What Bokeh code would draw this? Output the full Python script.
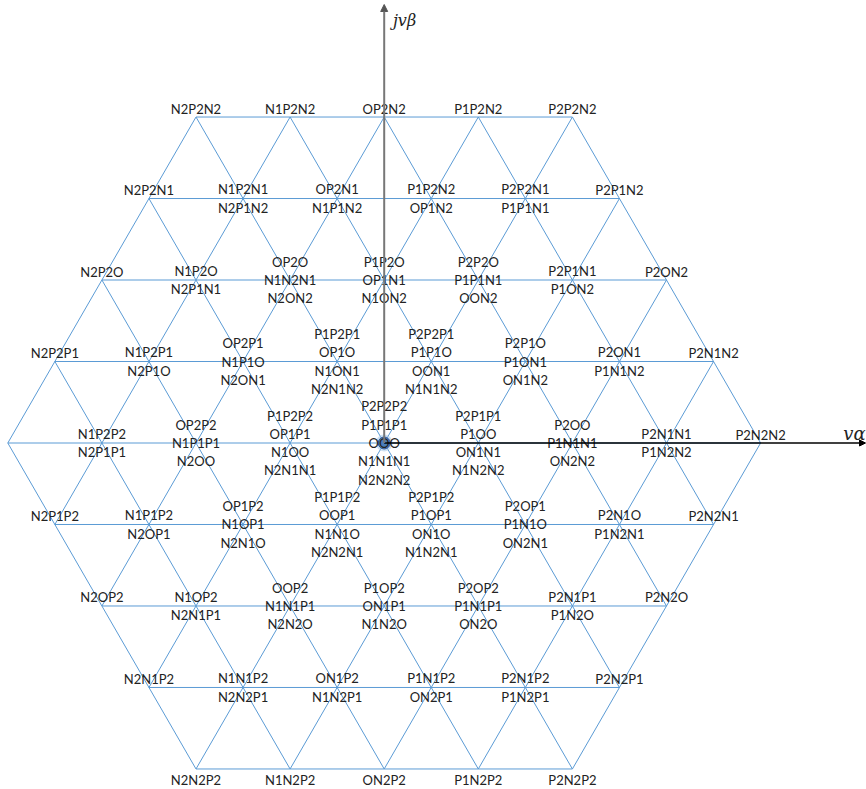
import math
from bokeh.plotting import figure
from bokeh.models import Range1d, ColumnDataSource, Arrow, NormalHead
from bokeh.core.properties import value
from bokeh.embed import file_html
from bokeh.resources import INLINE

# ---- data: switching states shown at each vertex, row by row
# (rows top to bottom, vertices left to right; [] = vertex without a label)
n_steps = 4  # five-level converter -> 4 steps from centre to hexagon edge

row_p4 = [["N2P2N2"], ["N1P2N2"], ["OP2N2"], ["P1P2N2"], ["P2P2N2"]]
row_p3 = [["N2P2N1"], ["N1P2N1", "N2P1N2"], ["OP2N1", "N1P1N2"], ["P1P2N2", "OP1N2"],
          ["P2P2N1", "P1P1N1"], ["P2P1N2"]]
row_p2 = [["N2P2O"], ["N1P2O", "N2P1N1"], ["OP2O", "N1N2N1", "N2ON2"],
          ["P1P2O", "OP1N1", "N1ON2"], ["P2P2O", "P1P1N1", "OON2"],
          ["P2P1N1", "P1ON2"], ["P2ON2"]]
row_p1 = [["N2P2P1"], ["N1P2P1", "N2P1O"], ["OP2P1", "N1P1O", "N2ON1"],
          ["P1P2P1", "OP1O", "N1ON1", "N2N1N2"], ["P2P2P1", "P1P1O", "OON1", "N1N1N2"],
          ["P2P1O", "P1ON1", "ON1N2"], ["P2ON1", "P1N1N2"], ["P2N1N2"]]
row_0 = [[], ["N1P2P2", "N2P1P1"], ["OP2P2", "N1P1P1", "N2OO"],
         ["P1P2P2", "OP1P1", "N1OO", "N2N1N1"],
         ["P2P2P2", "P1P1P1", "OOO", "N1N1N1", "N2N2N2"],
         ["P2P1P1", "P1OO", "ON1N1", "N1N2N2"], ["P2OO", "P1N1N1", "ON2N2"],
         ["P2N1N1", "P1N2N2"], ["P2N2N2"]]
row_m1 = [["N2P1P2"], ["N1P1P2", "N2OP1"], ["OP1P2", "N1OP1", "N2N1O"],
          ["P1P1P2", "OOP1", "N1N1O", "N2N2N1"], ["P2P1P2", "P1OP1", "ON1O", "N1N2N1"],
          ["P2OP1", "P1N1O", "ON2N1"], ["P2N1O", "P1N2N1"], ["P2N2N1"]]
row_m2 = [["N2OP2"], ["N1OP2", "N2N1P1"], ["OOP2", "N1N1P1", "N2N2O"],
          ["P1OP2", "ON1P1", "N1N2O"], ["P2OP2", "P1N1P1", "ON2O"],
          ["P2N1P1", "P1N2O"], ["P2N2O"]]
row_m3 = [["N2N1P2"], ["N1N1P2", "N2N2P1"], ["ON1P2", "N1N2P1"], ["P1N1P2", "ON2P1"],
          ["P2N1P2", "P1N2P1"], ["P2N2P1"]]
row_m4 = [["N2N2P2"], ["N1N2P2"], ["ON2P2"], ["P1N2P2"], ["P2N2P2"]]

all_rows = [row_p4, row_p3, row_p2, row_p1, row_0, row_m1, row_m2, row_m3, row_m4]
axis_labels = ["jv\u03b2", "v\u03b1"]

S3 = math.sqrt(3) / 2

# ---- figure: 1 data unit = 94.1 px, centre at (383.7, 442.5)
W, H = 866, 789
U = 94.1
CX, CY = 383.7, 442.5


def px_x(px):
    return (px - CX) / U


def px_y(py):
    return (CY - py) / U


p = figure(width=W, height=H, output_backend="svg", toolbar_location=None,
           x_range=Range1d(px_x(0), px_x(W)), y_range=Range1d(px_y(H), px_y(0)),
           min_border=0)
p.axis.visible = False
p.grid.visible = False
p.outline_line_color = None
p.background_fill_color = "white"
p.border_fill_color = "white"

# triangular grid lines inside the hexagon
x0s, y0s, x1s, y1s = [], [], [], []
for k in range(-n_steps, n_steps + 1):
    y = k * S3
    xa = -n_steps + abs(k) / 2
    xb = n_steps - abs(k) / 2
    for ang in (0, 60, 120):
        t = math.radians(ang)
        ct, st = math.cos(t), math.sin(t)
        x0s.append(xa * ct - y * st)
        y0s.append(xa * st + y * ct)
        x1s.append(xb * ct - y * st)
        y1s.append(xb * st + y * ct)
p.segment(x0=x0s, y0=y0s, x1=x1s, y1=y1s, line_color="#5b9bd5", line_width=1)

# axes
p.add_layout(Arrow(x_start=0, y_start=0, x_end=px_x(W - 1), y_end=0,
                   line_color="black", line_width=1.5,
                   end=NormalHead(size=6, fill_color="black", line_color="black")))
p.add_layout(Arrow(x_start=0, y_start=0, x_end=0, y_end=px_y(4),
                   line_color="#777777", line_width=2,
                   end=NormalHead(size=7, fill_color="#555555", line_color="#555555")))

# centre dot
p.scatter(x=[0], y=[0], size=17, fill_color="#9dc3e6", fill_alpha=0.5, line_color=None)
p.scatter(x=[0], y=[0], size=12, fill_color="#4a7ebb", line_color="#2f5597", line_width=1)

# vertex labels
xs, ys, txt, yoff = [], [], [], []
for ri, row in enumerate(all_rows):
    k = n_steps - ri
    gy = k * S3
    for j, group in enumerate(row):
        gx = -n_steps + abs(k) / 2 + j
        n = len(group)
        for i, s in enumerate(group):
            if n == 1:
                off = 11 if k == -n_steps else -8.5
            else:
                off = (i - (n - 1) / 2) * 18.3
            xs.append(gx)
            ys.append(gy)
            txt.append(s)
            yoff.append(off)
src = ColumnDataSource(dict(x=xs, y=ys, text=txt, yoff=yoff))
p.text(x="x", y="y", text="text", y_offset="yoff", source=src,
       text_align="center", text_baseline="middle",
       text_font=value("Lato"), text_font_size="13px", text_color="#222222")

# axis names
p.text(x=[px_x(404)], y=[px_y(20)], text=[axis_labels[0]],
       text_align="center", text_baseline="middle", text_font=value("DejaVu Serif"),
       text_font_style="italic", text_font_size="16px", text_color="#222222")
p.text(x=[px_x(854)], y=[px_y(433)], text=[axis_labels[1]],
       text_align="center", text_baseline="middle", text_font=value("DejaVu Serif"),
       text_font_style="italic", text_font_size="18px", text_color="#222222")

open("out.html", "w").write(file_html(p, INLINE))
